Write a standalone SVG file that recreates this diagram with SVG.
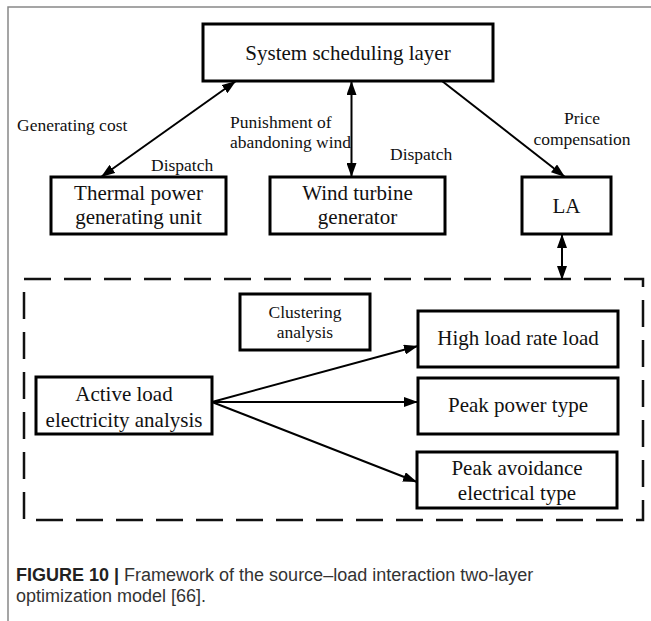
<svg xmlns="http://www.w3.org/2000/svg" width="651" height="621" viewBox="0 0 651 621">
  <style>
    .box { fill: #fff; stroke: #000; stroke-width: 3; }
    .node { font-family: "Liberation Serif", "Times New Roman", serif; font-size: 21px; fill: #111; text-anchor: middle; }
    .lbl { font-family: "Liberation Serif", "Times New Roman", serif; font-size: 17.5px; fill: #111; }
    .wire { stroke: #000; stroke-width: 2; fill: none; }
    .frame { stroke: #888; stroke-width: 1.5; fill: none; }
    .cap { font-family: "Liberation Sans", Arial, sans-serif; font-size: 18px; fill: #333; }
  </style>
  <defs>
    <marker id="ah" viewBox="0 0 14 10" refX="14" refY="5" markerWidth="14" markerHeight="10" markerUnits="userSpaceOnUse" orient="auto-start-reverse">
      <path d="M0,0 L14,5 L0,10 z" fill="#000"/>
    </marker>
  </defs>

  <rect width="651" height="621" fill="#fff"/>
  <!-- panel frame -->
  <path class="frame" d="M8,621 V7 H651"/>

  <!-- lower-layer boundary -->
  <rect id="load-layer" x="24" y="279" width="619" height="241" fill="none" stroke="#111" stroke-width="2.5" stroke-dasharray="27 13"/>

  <g id="connectors">
    <line class="wire" x1="101" y1="177" x2="236" y2="81" marker-start="url(#ah)" marker-end="url(#ah)"/>
    <line class="wire" x1="351.5" y1="81" x2="351.5" y2="177" marker-start="url(#ah)" marker-end="url(#ah)"/>
    <line class="wire" x1="442" y1="81" x2="565" y2="177" marker-end="url(#ah)"/>
    <line class="wire" x1="562" y1="234" x2="562" y2="280" marker-start="url(#ah)" marker-end="url(#ah)"/>
    <line class="wire" x1="212" y1="402" x2="418" y2="346" marker-end="url(#ah)"/>
    <line class="wire" x1="212" y1="402" x2="418" y2="402" marker-end="url(#ah)"/>
    <line class="wire" x1="212" y1="402" x2="417" y2="482" marker-end="url(#ah)"/>
  </g>

  <g id="edge-labels">
    <text class="lbl" x="17" y="131">Generating cost</text>
    <text class="lbl" x="230" y="128">Punishment of</text>
    <text class="lbl" x="230" y="148">abandoning wind</text>
    <text class="lbl" x="151" y="171">Dispatch</text>
    <text class="lbl" x="390" y="160">Dispatch</text>
    <text class="lbl" x="582" y="124" text-anchor="middle">Price</text>
    <text class="lbl" x="582" y="145" text-anchor="middle">compensation</text>
  </g>

  <g id="system-scheduling">
    <rect class="box" x="203" y="24" width="290" height="57"/>
    <text class="node" x="348" y="60">System scheduling layer</text>
  </g>

  <g id="thermal-unit">
    <rect class="box" x="51" y="177" width="175" height="57"/>
    <text class="node" x="138.5" y="200">Thermal power</text>
    <text class="node" x="138.5" y="224">generating unit</text>
  </g>

  <g id="wind-turbine">
    <rect class="box" x="270" y="177" width="175" height="57"/>
    <text class="node" x="357.5" y="200">Wind turbine</text>
    <text class="node" x="357.5" y="224">generator</text>
  </g>

  <g id="la">
    <rect class="box" x="522" y="177" width="89" height="57"/>
    <text class="node" x="566.5" y="213">LA</text>
  </g>

  <g id="clustering">
    <rect class="box" x="240" y="294" width="130" height="56" stroke-width="2.5"/>
    <text class="lbl" x="305" y="318" text-anchor="middle">Clustering</text>
    <text class="lbl" x="305" y="338" text-anchor="middle">analysis</text>
  </g>

  <g id="active-load">
    <rect class="box" x="36" y="377" width="176" height="57"/>
    <text class="node" x="124" y="401">Active load</text>
    <text class="node" x="124" y="427">electricity analysis</text>
  </g>

  <g id="high-load-rate">
    <rect class="box" x="418" y="311" width="200" height="56"/>
    <text class="node" x="518" y="345">High load rate load</text>
  </g>

  <g id="peak-power">
    <rect class="box" x="418" y="378" width="200" height="56"/>
    <text class="node" x="518" y="412">Peak power type</text>
  </g>

  <g id="peak-avoidance">
    <rect class="box" x="417" y="452" width="200" height="56"/>
    <text class="node" x="517" y="475">Peak avoidance</text>
    <text class="node" x="517" y="500">electrical type</text>
  </g>

  <g id="caption">
    <text class="cap" x="16" y="581"><tspan font-weight="bold" fill="#222">FIGURE 10 | </tspan>Framework of the source–load interaction two-layer</text>
    <text class="cap" x="16" y="602">optimization model [66].</text>
  </g>
</svg>
